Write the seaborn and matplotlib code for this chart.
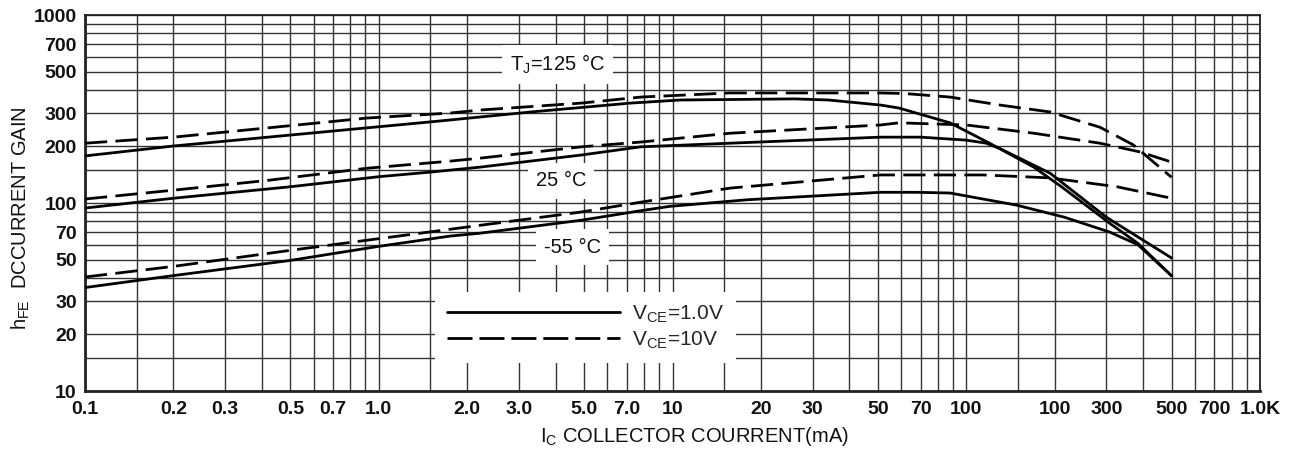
import matplotlib
matplotlib.use("Agg")
import matplotlib.pyplot as plt
from matplotlib.lines import Line2D
from matplotlib.ticker import FixedLocator, NullFormatter
import seaborn as sns
import pandas as pd

# ---------------- data ----------------
x_125_v1 = [0.1, 0.2, 0.42, 0.91, 1.5, 3.3, 7.2, 10.6, 26, 34, 51, 59, 88, 120, 170, 211, 308, 384, 500]
y_125_v1 = [178, 201, 224, 251, 270, 305, 340, 353, 358, 353, 332, 320, 267, 208, 155, 122, 78, 61, 41]

x_125_v10 = [0.1, 0.2, 0.42, 0.91, 1.75, 2.2, 4.9, 7.8, 15.7, 51, 62, 88, 130, 193, 285, 370, 500]
y_125_v10 = [208, 224, 251, 283, 301, 312, 340, 366, 385, 385, 382, 366, 332, 305, 253, 204, 137]

x_25_v1 = [0.1, 0.2, 0.5, 1.0, 1.5, 2.2, 4.9, 7.8, 15.7, 51, 70, 100, 117, 130, 193, 300, 500]
y_25_v1 = [94, 106, 122, 138, 146, 155, 180, 199, 208, 224, 224, 216, 208, 195, 144, 84, 51]

x_25_v10 = [0.1, 0.2, 0.42, 0.91, 1.75, 2.2, 4.9, 7.8, 15.7, 51, 59, 100, 170, 285, 390, 500]
y_25_v10 = [105, 117, 132, 153, 167, 173, 199, 211, 235, 260, 267, 260, 235, 208, 187, 165]

x_m55_v1 = [0.1, 0.2, 0.5, 1.0, 1.75, 2.2, 4.9, 7.8, 9.8, 17.9, 51, 68, 88, 148, 216, 308, 384, 500]
y_m55_v1 = [35.5, 41.1, 49.5, 58.8, 66.7, 69, 81, 91, 96, 104, 114, 114, 113, 97.5, 84, 70, 60, 41]

x_m55_v10 = [0.1, 0.2, 0.5, 1.0, 1.75, 2.2, 4.9, 7.8, 15.7, 51, 68, 114, 193, 326, 500]
y_m55_v10 = [40.4, 46, 56, 64.6, 72.5, 76, 89.6, 101, 120, 141, 141, 141, 136, 122, 106]

x_ticks = [0.1, 0.2, 0.3, 0.5, 0.7, 1, 2, 3, 5, 7, 10, 20, 30, 50, 70, 100, 200, 300, 500, 700, 1000]
x_tick_labels = ["0.1", "0.2", "0.3", "0.5", "0.7", "1.0", "2.0", "3.0", "5.0", "7.0",
                 "10", "20", "30", "50", "70", "100", "100", "300", "500", "700", "1.0K"]
y_ticks = [10, 20, 30, 50, 70, 100, 200, 300, 500, 700, 1000]
y_tick_labels = ["10", "20", "30", "50", "70", "100", "200", "300", "500", "700", "1000"]
grid_mults = [1, 1.5, 2, 3, 4, 5, 6, 7, 8, 9]

legend_labels = [r"V$_\mathregular{CE}$=1.0V", r"V$_\mathregular{CE}$=10V"]
temp_labels = [r"T$_\mathregular{J}$=125 °C", "25 °C", "-55 °C"]
temp_label_pos = [(4.05, 545), (4.17, 131), (4.58, 58.3)]

# ---------------- figure ----------------
sns.set_theme(style="white")
plt.rcParams["font.family"] = ["Liberation Sans", "DejaVu Sans"]
plt.rcParams["mathtext.fontset"] = "custom"
plt.rcParams["mathtext.rm"] = "Liberation Sans"

W, H = 1297, 450
fig = plt.figure(figsize=(W / 100, H / 100), dpi=100)
ax = fig.add_axes([85 / W, 1 - 391 / H, 1175 / W, 376 / H])
ax.set_xscale("log")
ax.set_yscale("log")
ax.set_xlim(0.1, 1000)
ax.set_ylim(10, 1000)

# grid
xgrid = [m * 10 ** e for e in range(-1, 3) for m in grid_mults] + [1000]
ygrid = [m * 10 ** e for e in range(1, 3) for m in grid_mults] + [1000]
ax.xaxis.set_major_locator(FixedLocator(x_ticks))
ax.xaxis.set_minor_locator(FixedLocator([v for v in xgrid if v not in x_ticks]))
ax.yaxis.set_major_locator(FixedLocator(y_ticks))
ax.yaxis.set_minor_locator(FixedLocator([v for v in ygrid if v not in y_ticks]))
ax.xaxis.set_minor_formatter(NullFormatter())
ax.yaxis.set_minor_formatter(NullFormatter())
ax.set_xticklabels(x_tick_labels, fontsize=14, fontweight="bold", color="#111111")
ax.set_yticklabels(y_tick_labels, fontsize=14, fontweight="bold", color="#111111")
ax.tick_params(which="both", length=0)
ax.tick_params(axis="x", pad=7)
ax.tick_params(axis="y", pad=6)
ax.grid(which="both", color="#333333", linewidth=1.0)
for s in ax.spines.values():
    s.set_color("#222222")
    s.set_linewidth(1.3)
ax.spines["left"].set_linewidth(2.0)
ax.spines["bottom"].set_linewidth(2.0)

# curves
dash = (0, (8, 3))
series = [
    (x_125_v1, y_125_v1, "-"), (x_125_v10, y_125_v10, dash),
    (x_25_v1, y_25_v1, "-"), (x_25_v10, y_25_v10, dash),
    (x_m55_v1, y_m55_v1, "-"), (x_m55_v10, y_m55_v10, dash),
]
for xs, ys, ls in series:
    df = pd.DataFrame({"x": xs, "y": ys})
    sns.lineplot(data=df, x="x", y="y", ax=ax, color="black", linewidth=2.0,
                 linestyle=ls, estimator=None, zorder=5)

# temperature labels
for txt, (tx, ty) in zip(temp_labels, temp_label_pos):
    ax.text(tx, ty, txt, ha="center", va="center", fontsize=14.5, color="#111111",
            bbox=dict(boxstyle="square,pad=0.4", fc="white", ec="none"), zorder=6)

# legend
handles = [Line2D([], [], color="black", linewidth=2.0, linestyle="-"),
           Line2D([], [], color="black", linewidth=2.0, linestyle=(0, (9, 2.5)))]
leg = ax.legend(handles, legend_labels, loc="upper left", bbox_to_anchor=(0.298, 0.263),
                borderaxespad=0, fontsize=15, handlelength=8.3, handletextpad=0.62,
                labelspacing=0.22, frameon=True, fancybox=False, borderpad=0.55)
leg.get_frame().set_facecolor("white")
leg.get_frame().set_edgecolor("none")
leg.get_frame().set_alpha(1)
leg.set_zorder(7)

ax.set_xlabel(r"I$_\mathregular{C}$ COLLECTOR COURRENT(mA)", fontsize=14.5, color="#111111")
ax.xaxis.set_label_coords(0.519, -0.09)
ax.set_ylabel(r"h$_\mathregular{FE}$  DCCURRENT GAIN", fontsize=14.5, color="#111111")
ax.yaxis.set_label_coords(-0.045, 0.46)

fig.savefig("out.png", dpi=100, facecolor="white")
